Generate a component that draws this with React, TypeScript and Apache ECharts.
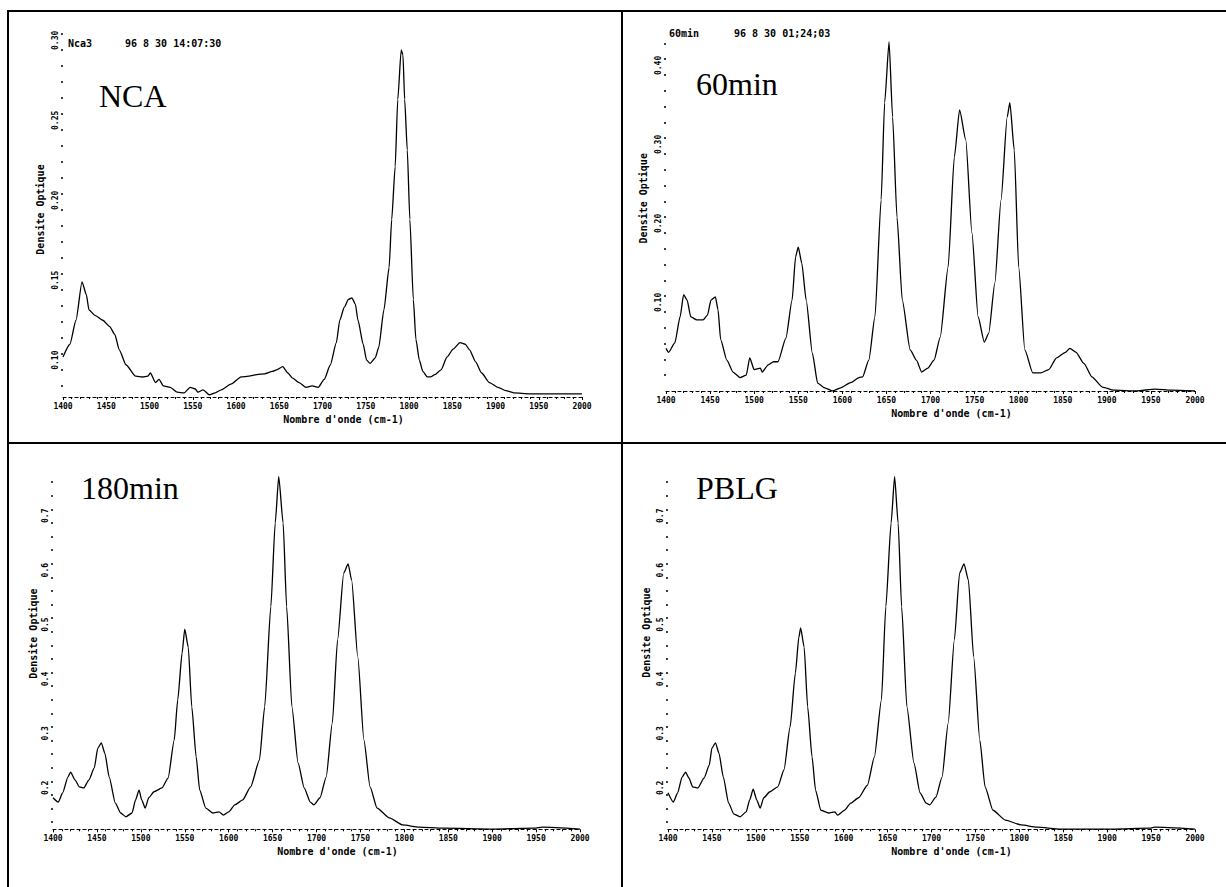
import React, { useEffect, useRef } from "react";
import * as echarts from "echarts";

// ---------- data ----------
const X_LABELS = [1400, 1450, 1500, 1550, 1600, 1650, 1700, 1750, 1800, 1850, 1900, 1950, 2000];

const NCA_Y_LABELS = [0.1, 0.15, 0.2, 0.25, 0.3];
const MIN60_Y_LABELS = [0.1, 0.2, 0.3, 0.4];
const MIN180_Y_LABELS = [0.2, 0.3, 0.4, 0.5, 0.6, 0.7];
const PBLG_Y_LABELS = [0.2, 0.3, 0.4, 0.5, 0.6, 0.7];

const PANEL_NAMES = ["NCA", "60min", "180min", "PBLG"];
const HEADER_NCA = ["Nca3", "96 8 30 14:07:30"];
const HEADER_60 = ["60min", "96 8 30 01;24;03"];

const NCA_SPECTRUM = [
  [1400, 0.108], [1408, 0.116], [1415, 0.131], [1422, 0.155], [1427, 0.147], [1430, 0.1375],
  [1437, 0.134], [1446, 0.131], [1454, 0.127], [1460, 0.122], [1465, 0.1125], [1473, 0.103],
  [1484, 0.096], [1492, 0.0955], [1498, 0.096], [1501, 0.098], [1507, 0.092], [1511, 0.094], [1516, 0.09],
  [1524, 0.089], [1532, 0.086], [1540, 0.0856], [1547, 0.089], [1553, 0.088], [1556, 0.086],
  [1562, 0.0875], [1569, 0.0844], [1576, 0.0856], [1583, 0.0875], [1594, 0.091], [1606, 0.0956],
  [1615, 0.096], [1624, 0.097], [1633, 0.0975], [1642, 0.099], [1647, 0.1], [1654, 0.102],
  [1660, 0.098], [1665, 0.095], [1673, 0.092], [1681, 0.089], [1688, 0.09], [1695, 0.089],
  [1702, 0.094], [1709, 0.103], [1716, 0.117], [1720, 0.131], [1725, 0.139], [1730, 0.144],
  [1734, 0.145], [1738, 0.141], [1741, 0.131], [1747, 0.116], [1751, 0.106], [1755, 0.104],
  [1761, 0.1075], [1765, 0.114], [1771, 0.1375], [1777, 0.164], [1780, 0.194], [1784, 0.227],
  [1787, 0.269], [1791, 0.3], [1793, 0.297], [1795, 0.269], [1798, 0.2375], [1801, 0.194],
  [1805, 0.144], [1808, 0.119], [1812, 0.106], [1816, 0.099], [1821, 0.0956], [1825, 0.0956],
  [1830, 0.097], [1837, 0.1], [1844, 0.108], [1851, 0.113], [1859, 0.117], [1865, 0.116],
  [1870, 0.1125], [1877, 0.105], [1884, 0.098], [1893, 0.092], [1903, 0.089], [1912, 0.087],
  [1921, 0.0856], [1940, 0.085], [1963, 0.085], [2000, 0.085],
];

const MIN60_SPECTRUM = [
  [1400, 0.054], [1403, 0.049], [1410, 0.061], [1416, 0.094], [1420, 0.122], [1424, 0.115],
  [1428, 0.094], [1435, 0.09], [1442, 0.09], [1447, 0.096], [1451, 0.115], [1456, 0.119],
  [1459, 0.103], [1462, 0.065], [1469, 0.039], [1476, 0.024], [1484, 0.017], [1491, 0.02],
  [1495, 0.042], [1500, 0.027], [1507, 0.029], [1509, 0.024], [1516, 0.033], [1522, 0.037],
  [1527, 0.037], [1536, 0.067], [1543, 0.115], [1547, 0.17], [1550, 0.182], [1554, 0.162],
  [1559, 0.115], [1566, 0.048], [1572, 0.01], [1580, 0.004], [1589, 0.0], [1598, 0.004],
  [1610, 0.011], [1619, 0.017], [1623, 0.018], [1630, 0.039], [1637, 0.094], [1644, 0.242],
  [1648, 0.365], [1653, 0.442], [1657, 0.347], [1662, 0.22], [1668, 0.115], [1677, 0.052],
  [1684, 0.039], [1690, 0.024], [1697, 0.029], [1704, 0.039], [1711, 0.068], [1720, 0.157],
  [1727, 0.296], [1733, 0.356], [1740, 0.318], [1747, 0.2], [1754, 0.094], [1761, 0.062],
  [1766, 0.073], [1773, 0.137], [1780, 0.242], [1787, 0.347], [1790, 0.365], [1795, 0.305],
  [1800, 0.157], [1807, 0.052], [1816, 0.023], [1825, 0.023], [1834, 0.027], [1843, 0.042],
  [1853, 0.049], [1858, 0.054], [1865, 0.049], [1874, 0.035], [1883, 0.018], [1895, 0.005],
  [1908, 0.001], [1933, 0.0], [1955, 0.0025], [1973, 0.001], [2000, 0.0],
];

const MIN180_SPECTRUM = [
  [1400, 0.195], [1406, 0.187], [1411, 0.204], [1417, 0.233], [1420, 0.242], [1425, 0.228],
  [1430, 0.215], [1435, 0.213], [1441, 0.228], [1447, 0.25], [1451, 0.286], [1455, 0.296],
  [1459, 0.277], [1464, 0.233], [1471, 0.185], [1477, 0.167], [1483, 0.16], [1490, 0.167],
  [1494, 0.191], [1498, 0.209], [1501, 0.191], [1505, 0.176], [1509, 0.195], [1515, 0.206],
  [1524, 0.213], [1531, 0.231], [1538, 0.301], [1542, 0.375], [1547, 0.461], [1550, 0.505],
  [1554, 0.472], [1558, 0.362], [1563, 0.27], [1567, 0.209], [1574, 0.176], [1582, 0.167],
  [1589, 0.169], [1594, 0.163], [1600, 0.169], [1607, 0.182], [1616, 0.191], [1625, 0.215],
  [1635, 0.264], [1641, 0.362], [1648, 0.546], [1653, 0.7], [1657, 0.785], [1662, 0.7],
  [1666, 0.546], [1672, 0.362], [1679, 0.259], [1686, 0.213], [1693, 0.187], [1697, 0.182],
  [1704, 0.195], [1711, 0.233], [1718, 0.332], [1724, 0.485], [1731, 0.608], [1736, 0.625],
  [1740, 0.595], [1747, 0.454], [1754, 0.301], [1761, 0.215], [1769, 0.176], [1783, 0.158],
  [1798, 0.145], [1817, 0.141], [1844, 0.139], [1902, 0.1375], [1948, 0.139], [1957, 0.141],
  [2000, 0.1375],
];

const PBLG_SPECTRUM = [
  [1400, 0.204], [1406, 0.187], [1411, 0.204], [1416, 0.233], [1420, 0.242], [1424, 0.231],
  [1428, 0.215], [1434, 0.213], [1441, 0.231], [1447, 0.255], [1450, 0.286], [1454, 0.296],
  [1458, 0.277], [1463, 0.233], [1469, 0.185], [1475, 0.165], [1482, 0.16], [1489, 0.169],
  [1493, 0.191], [1497, 0.211], [1501, 0.191], [1505, 0.176], [1509, 0.195], [1516, 0.206],
  [1525, 0.215], [1532, 0.246], [1539, 0.325], [1545, 0.424], [1549, 0.49], [1551, 0.507],
  [1555, 0.472], [1559, 0.362], [1564, 0.27], [1568, 0.209], [1574, 0.172], [1583, 0.167],
  [1590, 0.169], [1593, 0.163], [1601, 0.172], [1608, 0.185], [1617, 0.195], [1627, 0.218],
  [1635, 0.27], [1643, 0.375], [1648, 0.546], [1654, 0.7], [1658, 0.785], [1662, 0.7],
  [1666, 0.546], [1672, 0.362], [1680, 0.259], [1687, 0.204], [1694, 0.185], [1698, 0.182],
  [1705, 0.196], [1712, 0.233], [1719, 0.332], [1726, 0.485], [1732, 0.608], [1737, 0.625],
  [1742, 0.595], [1748, 0.454], [1755, 0.301], [1761, 0.215], [1770, 0.172], [1784, 0.154],
  [1802, 0.145], [1820, 0.141], [1847, 0.1375], [1905, 0.1375], [1949, 0.139], [1954, 0.141],
  [2000, 0.1375],
];

// ---------- layout ----------
const PANELS = [
  { data: NCA_SPECTRUM, yLabels: NCA_Y_LABELS, dec: 2, min: 0.083, max: 0.3175, tick: [0.09, 0.31, 0.01],
    grid: { left: 63, top: 22, width: 519, height: 375 }, nameShift: 42, yNameShift: 0, yGap: 18 },
  { data: MIN60_SPECTRUM, yLabels: MIN60_Y_LABELS, dec: 2, min: 0, max: 0.445, tick: [0.02, 0.44, 0.02],
    grid: { left: 666, top: 39.5, width: 529, height: 351.5 }, nameShift: 42, yNameShift: 34, yGap: 18 },
  { data: MIN180_SPECTRUM, yLabels: MIN180_Y_LABELS, dec: 1, min: 0.137, max: 0.79, tick: [0.15, 0.775, 0.025],
    grid: { left: 53, top: 474, width: 527, height: 355.3 }, nameShift: 42, yNameShift: 36, yGap: 15 },
  { data: PBLG_SPECTRUM, yLabels: PBLG_Y_LABELS, dec: 1, min: 0.137, max: 0.79, tick: [0.15, 0.775, 0.025],
    grid: { left: 668, top: 474, width: 527, height: 355.3 }, nameShift: 40, yNameShift: 38, yGap: 17 },
];

const steps = (a: number, b: number, s: number) => {
  const out: number[] = [];
  for (let v = a; v <= b + 1e-9; v += s) out.push(+v.toFixed(4));
  return out;
};

const MONO = "'DejaVu Sans Mono', monospace";
const SERIF = "'Liberation Serif', 'Times New Roman', serif";

export default function App() {
  const ref = useRef<HTMLDivElement>(null);
  useEffect(() => {
    if (!ref.current) return;
    const chart = echarts.init(ref.current, null, { renderer: "svg" });

    const grids = PANELS.map((p) => ({ ...p.grid, containLabel: false, outerBoundsMode: "none" }));
    const xAxes = PANELS.map((p, i) => ({
      type: "value",
      gridIndex: i,
      min: 1400,
      max: 2000,
      interval: 50,
      axisLine: { show: true, onZero: false, lineStyle: { color: "#000", width: 1.2, type: [3, 3] } },
      axisTick: { show: true, length: 3, lineStyle: { color: "#000", width: 1 } },
      minorTick: { show: true, splitNumber: 5, length: 2, lineStyle: { color: "#000", width: 1 } },
      splitLine: { show: false },
      axisLabel: {
        customValues: X_LABELS,
        color: "#000",
        fontFamily: MONO,
        fontWeight: "bold",
        fontSize: 8,
        margin: 5,
        formatter: (v: number) => String(v),
      },
      name: "Nombre d'onde (cm-1)",
      nameLocation: "middle",
      nameGap: 17,
      nameMoveOverlap: false,
      nameTextStyle: { color: "#000", fontFamily: MONO, fontWeight: "bold", fontSize: 10, padding: [0, 0, 0, p.nameShift] },
    }));
    const yAxes = PANELS.map((p, i) => ({
      type: "value",
      gridIndex: i,
      min: p.min,
      max: p.max,
      axisLine: { show: false },
      axisTick: { show: true, customValues: steps(p.tick[0], p.tick[1], p.tick[2]), length: 2, lineStyle: { color: "#000", width: 1.5 } },
      splitLine: { show: false },
      axisLabel: {
        customValues: p.yLabels,
        rotate: 90,
        align: "left",
        verticalAlign: "bottom",
        margin: 4,
        color: "#000",
        fontFamily: MONO,
        fontWeight: "bold",
        fontSize: 8,
        formatter: (v: number) => v.toFixed(p.dec),
      },
      name: "Densite Optique",
      nameLocation: "middle",
      nameGap: p.yGap,
      nameRotate: 90,
      nameMoveOverlap: false,
      nameTextStyle: { color: "#000", fontFamily: MONO, fontWeight: "bold", fontSize: 10, padding: [0, 0, 0, p.yNameShift] },
    }));
    const series = PANELS.map((p, i) => ({
      type: "line",
      name: PANEL_NAMES[i],
      xAxisIndex: i,
      yAxisIndex: i,
      data: p.data,
      symbol: "none",
      showSymbol: false,
      silent: true,
      smooth: 0.2,
      smoothMonotone: "x",
      lineStyle: { color: "#000", width: 1.3 },
    }));

    const border = (x1: number, y1: number, x2: number, y2: number) => ({
      type: "line",
      shape: { x1, y1, x2, y2 },
      style: { stroke: "#000", lineWidth: 2 },
      silent: true,
    });
    const bigText = (text: string, x: number, y: number) => ({
      type: "text",
      x,
      y,
      style: { text, fill: "#000", fontSize: 32, fontFamily: SERIF, align: "left", verticalAlign: "middle", textAlign: "left", textVerticalAlign: "middle" },
      silent: true,
    });
    const smallText = (text: string, x: number, y: number) => ({
      type: "text",
      x,
      y,
      style: { text, fill: "#000", fontSize: 10, fontWeight: "bold", fontFamily: MONO, align: "left", verticalAlign: "middle", textAlign: "left", textVerticalAlign: "middle" },
      silent: true,
    });

    chart.setOption({
      animation: false,
      backgroundColor: "#fff",
      grid: grids,
      xAxis: xAxes,
      yAxis: yAxes,
      series,
      graphic: [
        border(7, 11, 1226, 11),
        border(8, 10, 8, 887),
        border(622, 10, 622, 887),
        border(7, 443, 1226, 443),
        bigText(PANEL_NAMES[0], 99, 96),
        bigText(PANEL_NAMES[1], 696, 84),
        bigText(PANEL_NAMES[2], 81, 488),
        bigText(PANEL_NAMES[3], 696, 488),
        smallText(HEADER_NCA[0], 68, 43),
        smallText(HEADER_NCA[1], 125, 43),
        smallText(HEADER_60[0], 669, 33),
        smallText(HEADER_60[1], 734, 33),
      ],
    });
    return () => chart.dispose();
  }, []);

  return (
    <div
      ref={ref}
      style={{ position: "absolute", left: 0, top: 0, width: 1226, height: 887, background: "#fff" }}
    />
  );
}
